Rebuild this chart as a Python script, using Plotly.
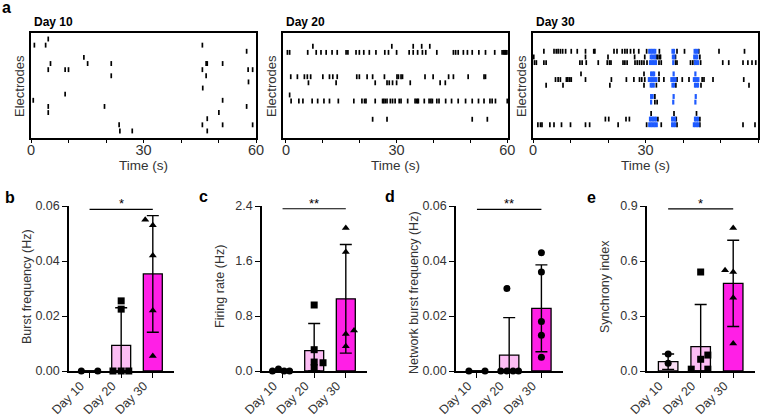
import plotly.graph_objects as go

W, H = 764, 416
FONT = "Arial, Liberation Sans, sans-serif"

# ---------------- raster data (spike times in s, per electrode row) ----------------
d10_rows = list(range(1, 17))
d10_spikes = [
    [4.6],
    [0.9, 3.9, 45.7],
    [57.5],
    [14.1],
    [5.2, 15.1, 21.4, 46.7, 47.0, 51.1],
    [4.6, 9.1, 10.0, 45.7, 57.9, 59.1],
    [21.4, 46.7],
    [58.0],
    [45.8],
    [9.1],
    [0.6, 51.1],
    [4.6, 19.6, 57.5],
    [4.6, 50.1],
    [47.0],
    [23.5, 45.7, 51.1, 59.1],
    [23.7, 27.0, 47.0],
]

d20_rows = [2, 3, 7, 8, 10, 11, 14]
d20_spikes = [
    [7.3, 28.7, 34.5, 36.8, 39.0],
    [0.4, 1.0, 5.9, 8.2, 9.5, 10.9, 12.5, 13.9, 16.3, 16.8, 19.0, 19.9, 21.1, 22.6, 24.4,
     26.8, 27.8, 30.0, 33.4, 34.5, 35.7, 37.0, 37.9, 40.9, 45.4, 46.0, 46.7, 48.1, 49.2,
     50.5, 52.3, 54.1, 56.6, 58.6, 59.0, 59.3, 59.6, 59.9],
    [1.3, 3.1, 5.0, 5.8, 6.7, 10.0, 11.8, 12.7, 13.9, 19.2, 19.9, 22.0, 23.5, 26.7, 30.1,
     30.5, 31.2, 31.6, 37.7, 39.9, 44.1, 45.4, 49.4, 53.7, 54.1],
    [6.1, 13.6, 24.2, 27.4, 28.0, 28.9, 30.0, 33.7, 41.8, 43.2],
    [1.0],
    [1.4, 3.5, 4.6, 7.1, 8.6, 10.3, 11.8, 14.2, 18.4, 20.6, 21.3, 21.7, 24.2, 26.2, 26.5,
     26.9, 27.4, 28.3, 28.9, 29.6, 30.7, 31.2, 33.0, 35.0, 35.4, 35.7, 35.9, 37.5, 38.8,
     39.3, 39.7, 40.9, 41.5, 43.3, 44.9, 46.7, 48.7, 50.5, 52.2, 53.7, 55.3, 55.9, 56.8, 60.0],
    [23.5, 27.4, 50.5, 54.6],
]

d30_rows = [4, 5, 6, 8, 9, 10, 12, 13, 15, 16, 17]
d30_spikes = [
    [2.9, 5.6, 6.2, 6.7, 7.3, 7.9, 8.7, 10.2, 11.8, 14.0, 16.2, 16.5, 21.6, 22.4, 23.8, 24.5,
     25.1, 26.0, 26.9, 28.2, 30.3, 33.7, 38.4, 40.4, 44.2, 49.6, 56.4],
    [0.2, 14.0, 20.0, 27.1, 29.8, 32.9, 33.3, 33.8, 34.0, 38.0, 44.5],
    [0.4, 0.9, 2.9, 3.5, 12.5, 13.1, 14.2, 17.4, 19.8, 20.4, 20.8, 24.0, 24.5, 25.1, 27.2,
     27.8, 28.4, 29.0, 29.6, 30.4, 33.6, 34.2, 38.0, 38.4, 42.0, 42.6, 43.1, 44.7, 50.6,
     52.2, 56.0, 57.3, 58.4, 59.4],
    [12.8, 29.6, 33.6],
    [6.0, 6.7, 7.3, 8.9, 9.3, 9.8, 10.2, 14.0, 20.9, 24.9, 26.9, 28.4, 29.0, 29.8, 33.6, 34.9,
     38.4, 39.8, 41.6, 45.1, 45.6, 48.0, 56.2],
    [3.5, 8.0, 20.5, 29.6, 32.9, 38.1, 44.8, 57.6],
    [32.5],
    [32.5, 33.1],
    [31.5, 37.6, 43.6],
    [19.3, 20.2, 24.8, 25.7, 33.3, 38.2, 44.5],
    [1.3, 2.0, 2.4, 4.5, 5.6, 7.6, 10.0, 14.0, 15.1, 22.7, 30.3, 34.2, 38.4, 44.5, 56.0, 59.2],
]
# network-burst spikes (blue)
d30_burst = [
    [31.0, 31.4, 31.8, 32.2, 32.6, 37.2, 37.6, 43.1, 43.5, 43.9],
    [31.4, 31.8, 32.2, 32.6, 37.3, 37.7, 43.0, 43.4, 43.8],
    [31.2, 31.6, 32.0, 32.4, 32.8, 37.4, 43.2, 43.6, 44.0],
    [31.5, 31.9, 32.3, 37.5, 43.3],
    [30.9, 31.3, 31.7, 32.1, 32.5, 32.9, 36.9, 37.3, 37.7, 38.0, 42.9, 43.3, 43.7, 44.1],
    [31.4, 31.8, 32.2, 37.2, 37.6, 43.2, 43.6, 44.0],
    [31.5, 31.9, 37.5, 43.4],
    [31.5, 37.4, 43.3],
    [],
    [31.2, 31.6, 32.0, 32.4, 32.8, 37.1, 37.5, 37.9, 43.2, 43.6, 44.0],
    [31.0, 31.4, 31.8, 32.2, 32.6, 33.0, 37.1, 37.5, 37.9, 42.9, 43.3, 43.7, 44.1],
]

raster_titles = ["Day 10", "Day 20", "Day 30"]
time_ticks = [0, 10, 20, 30, 40, 50, 60]
time_ticktext = ["0", "", "", "30", "", "", "60"]

# ---------------- bar-chart data ----------------
days = ["Day 10", "Day 20", "Day 30"]
bar_colors = ["#f8dcf3", "#fcbdf4", "#ff1fe6"]

b_mean = [0.0, 0.0093, 0.0353]
b_sd = [0.0, 0.0137, 0.0212]
b_pts = [[0.0, 0.0], [0.0255, 0.0225, 0.0, 0.0, 0.0], [0.055, 0.053, 0.042, 0.022, 0.0055]]
b_jit = [[-0.26, 0.26], [0.0, 0.0, -0.26, 0.0, 0.24], [-0.24, 0.0, 0.0, 0.0, 0.0]]
b_sym = ["circle", "square", "triangle-up"]

c_mean = [0.01, 0.295, 1.05]
c_sd = [0.012, 0.395, 0.79]
c_pts = [[0.0, 0.03, 0.0, 0.0], [0.96, 0.31, 0.13, 0.12, 0.05], [2.08, 1.73, 0.59, 0.54, 0.36]]
c_jit = [[-0.32, -0.13, 0.05, 0.22], [0.0, 0.0, 0.0, 0.28, 0.0], [0.0, 0.0, 0.26, 0.0, 0.0]]
c_sym = ["circle", "square", "triangle-up"]

d_mean = [0.0, 0.0058, 0.0228]
d_sd = [0.0, 0.0136, 0.0158]
d_pts = [[0.0, 0.0], [0.030, 0.0, 0.0, 0.0, 0.0], [0.043, 0.036, 0.018, 0.013, 0.005]]
d_jit = [[-0.25, 0.25], [-0.07, -0.26, -0.07, 0.12, 0.29], [0.0, 0.0, 0.0, 0.0, 0.0]]
d_sym = ["circle", "circle", "circle"]

e_mean = [0.051, 0.133, 0.478]
e_sd = [0.042, 0.23, 0.235]
e_pts = [[0.093, 0.042], [0.54, 0.087, 0.064, 0.01, 0.01], [0.78, 0.55, 0.54, 0.40, 0.15]]
e_jit = [[0.0, 0.0], [0.0, 0.22, 0.0, -0.29, 0.22], [0.0, -0.25, 0.0, 0.0, 0.0]]
e_sym = ["circle", "square", "triangle-up"]

bar_ylabels = ["Burst frequency (Hz)", "Firing rate (Hz)",
               "Network burst frequency (Hz)", "Synchrony index"]
bar_yticks = [[0, 0.02, 0.04, 0.06], [0, 0.8, 1.6, 2.4], [0, 0.02, 0.04, 0.06], [0, 0.3, 0.6, 0.9]]
bar_yticktext = [["0.00", "0.02", "0.04", "0.06"], ["0.0", "0.8", "1.6", "2.4"],
                 ["0.00", "0.02", "0.04", "0.06"], ["0.0", "0.3", "0.6", "0.9"]]
sig_level = [0.0588, 2.36, 0.0588, 0.884]
sig_text = ["*", "**", "**", "*"]
panel_letters = ["a", "b", "c", "d", "e"]

# ---------------- layout geometry (pixels) ----------------
raster_x = [(31, 256), (283, 508), (533, 758)]
raster_y = (33, 138)
raster_xrange = [[0, 60], [-0.8, 60.2], [0, 60]]
raster_yrange = [[17.15, 0.02], [17.08, -0.19], [19.35, 0.76]]
bar_x = [(69, 174), (262, 367), (456, 563), (647, 755)]
bar_y = (206, 371)
bar_label_y = [287, 287, 293, 287]


def px(x):
    return x / W


def py(y):
    return 1 - y / H


fig = go.Figure()
layout = dict(width=W, height=H, margin=dict(l=0, r=0, t=0, b=0, autoexpand=False),
              paper_bgcolor="white", plot_bgcolor="white", showlegend=False,
              font=dict(family=FONT, color="#222"))
annotations = []
shapes = []

spike_mk = dict(symbol="line-ns", size=3.5, line=dict(width=1.7, color="black"))
burst_mk = dict(symbol="line-ns", size=3.5, line=dict(width=2.2, color="#1f5bff"))

raster_sets = [(d10_rows, d10_spikes, None), (d20_rows, d20_spikes, None),
               (d30_rows, d30_spikes, d30_burst)]

for i, (rows, spikes, burst) in enumerate(raster_sets):
    n = i + 1
    xs, ys = [], []
    for r, ts in zip(rows, spikes):
        xs += ts
        ys += [r] * len(ts)
    fig.add_trace(go.Scatter(x=xs, y=ys, mode="markers", marker=spike_mk,
                             xaxis=f"x{n}", yaxis=f"y{n}", hoverinfo="skip",
                             cliponaxis=False))
    if burst is not None:
        bx, by = [], []
        for r, ts in zip(rows, burst):
            bx += ts
            by += [r] * len(ts)
        fig.add_trace(go.Scatter(x=bx, y=by, mode="markers", marker=burst_mk,
                                 xaxis=f"x{n}", yaxis=f"y{n}", hoverinfo="skip",
                                 cliponaxis=False))
    x0, x1 = raster_x[i]
    layout[f"xaxis{n}"] = dict(
        domain=[px(x0), px(x1)], anchor=f"y{n}", range=raster_xrange[i], automargin=False,
        tickvals=time_ticks, ticktext=time_ticktext, ticks="outside", ticklen=3,
        tickwidth=1.2, tickcolor="black", showline=True, mirror=True, linecolor="black",
        linewidth=1.5, showgrid=False, zeroline=False, ticklabelstandoff=-5,
        tickfont=dict(size=14.5, color="#333", family=FONT))
    layout[f"yaxis{n}"] = dict(
        domain=[py(raster_y[1]), py(raster_y[0])], anchor=f"x{n}", range=raster_yrange[i],
        automargin=False,
        showticklabels=False, ticks="", showline=True, mirror=True, linecolor="black",
        linewidth=1.5, showgrid=False, zeroline=False)
    annotations.append(dict(text=f"<b>{raster_titles[i]}</b>", x=px(x0 + 1), y=py(22.5),
                            xref="paper", yref="paper", xanchor="left", yanchor="middle",
                            showarrow=False, font=dict(size=12, color="black")))
    annotations.append(dict(text="Electrodes", x=px(x0 - 11), y=py(86), textangle=-90,
                            xref="paper", yref="paper", xanchor="center", yanchor="middle",
                            showarrow=False, font=dict(size=13, color="#333")))
    annotations.append(dict(text="Time (s)", x=px((x0 + x1) / 2), y=py(165),
                            xref="paper", yref="paper", xanchor="center", yanchor="middle",
                            showarrow=False, font=dict(size=13.5, color="#333")))

bar_sets = [(b_mean, b_sd, b_pts, b_jit, b_sym), (c_mean, c_sd, c_pts, c_jit, c_sym),
            (d_mean, d_sd, d_pts, d_jit, d_sym), (e_mean, e_sd, e_pts, e_jit, e_sym)]

for j, (mean, sd, pts, jit, sym) in enumerate(bar_sets):
    n = j + 4
    xa, ya = f"x{n}", f"y{n}"
    fig.add_trace(go.Bar(
        x=[0, 1, 2], y=mean, width=0.6, xaxis=xa, yaxis=ya,
        marker=dict(color=bar_colors, line=dict(color="black", width=1.3)),
        error_y=dict(type="data", array=sd, arrayminus=[min(s, m) for s, m in zip(sd, mean)],
                     color="black", thickness=1.4, width=6),
        cliponaxis=False, hoverinfo="skip"))
    for g in range(3):
        fig.add_trace(go.Scatter(
            x=[g + o for o in jit[g]], y=pts[g], mode="markers", xaxis=xa, yaxis=ya,
            marker=dict(symbol=sym[g], size=7, color="black"), cliponaxis=False,
            hoverinfo="skip"))
    x0, x1 = bar_x[j]
    yt = bar_yticks[j]
    layout[f"xaxis{n}"] = dict(
        domain=[px(x0), px(x1)], anchor=ya, range=[-0.65, 2.67], automargin=False,
        tickvals=[0, 1, 2], ticktext=days, tickangle=-45, ticks="outside", ticklen=5,
        tickwidth=1.3, tickcolor="black", showline=True, linecolor="black", linewidth=1.5,
        showgrid=False, zeroline=False, ticklabelshift=-9, ticklabelstandoff=-4,
        tickfont=dict(size=12.5, color="#333", family=FONT))
    layout[f"yaxis{n}"] = dict(
        domain=[py(bar_y[1]), py(bar_y[0])], anchor=xa, range=[yt[0], yt[-1]],
        automargin=False,
        tickvals=yt, ticktext=bar_yticktext[j], ticks="outside", ticklen=5, tickwidth=1.3,
        tickcolor="black", showline=True, linecolor="black", linewidth=1.5,
        showgrid=False, zeroline=False, tickfont=dict(size=12.5, color="#333", family=FONT))
    shapes.append(dict(type="line", xref=xa, yref=ya, x0=0, x1=2,
                       y0=sig_level[j], y1=sig_level[j], line=dict(color="black", width=1.2)))
    annotations.append(dict(text=sig_text[j], x=1, y=sig_level[j], xref=xa, yref=ya,
                            xanchor="center", yanchor="bottom", showarrow=False, yshift=-4,
                            font=dict(size=13, color="black")))
    annotations.append(dict(text=bar_ylabels[j], x=px(x0 - 42), y=py(bar_label_y[j]),
                            textangle=-90, xref="paper", yref="paper", xanchor="center",
                            yanchor="middle", showarrow=False,
                            font=dict(size=12.5, color="#333")))

letter_pos = [(0, 7), (3, 197), (197, 196), (383, 196), (585, 197)]
for L, (lx, ly) in zip(panel_letters, letter_pos):
    annotations.append(dict(text=f"<b>{L}</b>", x=px(lx), y=py(ly), xref="paper", yref="paper",
                            xanchor="left", yanchor="middle", showarrow=False,
                            font=dict(size=16, color="black")))

layout["annotations"] = annotations
layout["shapes"] = shapes
fig.update_layout(**layout)
fig.write_html("out.html", config={"displayModeBar": False},
               post_script="document.body.style.margin='0';document.body.style.overflow='hidden';")
